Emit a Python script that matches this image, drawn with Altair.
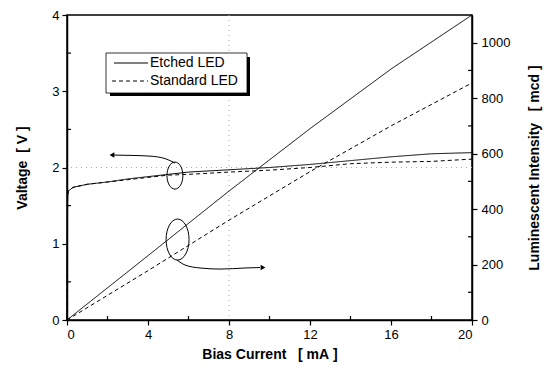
import altair as alt
import pandas as pd

# ---------------- data ----------------
current_v = [0, 0.03, 0.06, 0.3, 1, 2, 3, 4, 5, 6, 8, 10, 12, 14, 16, 18, 20]
etched_v = [0, 1.6, 1.69, 1.74, 1.78, 1.81, 1.85, 1.88, 1.91, 1.94, 1.97, 2.0, 2.04, 2.09, 2.14, 2.18, 2.195]
standard_v = [0, 1.6, 1.69, 1.74, 1.78, 1.81, 1.84, 1.87, 1.9, 1.91, 1.94, 1.965, 2.0, 2.05, 2.07, 2.08, 2.11]

current_l = [0, 4, 8, 12, 16, 20]
etched_l = [0, 232, 465, 690, 905, 1100]
standard_l = [0, 178, 360, 535, 700, 855]

series_names = ["Etched LED", "Standard LED"]

NB = "\u00a0"
x_title = "Bias Current" + NB * 3 + "[" + NB + "mA" + NB + "]"
v_title = "Valtage" + NB * 2 + "[" + NB + "V" + NB + "]"
l_title = "Luminescent Intensity" + NB * 3 + "[" + NB + "mcd" + NB + "]"

# annotations (data units: current, voltage)
ellipse_x = [5.33, 5.46]
ellipse_y = [1.894, 1.055]
arrow1_x = [5.33, 4.84, 4.10, 3.11, 2.32]
arrow1_y = [2.058, 2.117, 2.149, 2.159, 2.163]
arrow2_x = [5.43, 5.83, 6.57, 7.56, 8.79, 9.53]
arrow2_y = [0.786, 0.721, 0.682, 0.668, 0.682, 0.688]
head1 = (2.22, 2.163)
head2 = (9.68, 0.688)

grid_x = [8]
grid_y = [2]
minor_x = [2, 6, 10, 14, 18]
minor_v = [0.5, 1.5, 2.5, 3.5]
minor_l = [100, 300, 500, 700, 900]

# ---------------- tables ----------------
def long(xs, ys_list):
    rows = []
    for name, ys in zip(series_names, ys_list):
        for i, (x, y) in enumerate(zip(xs, ys)):
            rows.append({"series": name, "i": i, "x": x, "y": y})
    return pd.DataFrame(rows)

volt_df = long(current_v, [etched_v, standard_v])
lum_df = long(current_l, [etched_l, standard_l])

W, H = 405, 305
FONT = "Liberation Sans"

xscale = alt.Scale(domain=[0, 20], nice=False)
vscale = alt.Scale(domain=[0, 4], nice=False)
lscale = alt.Scale(domain=[0, 1100], nice=False)
dash = alt.StrokeDash("series:N", scale=alt.Scale(domain=series_names, range=[[1, 0], [4, 3]]), legend=None)

x_axis = alt.Axis(values=[0, 4, 8, 12, 16, 20], title=x_title, grid=False, format="d",
                  labelPadding=3, titlePadding=6)

volt = alt.Chart(volt_df).mark_line(color="black", strokeWidth=1).encode(
    x=alt.X("x:Q", scale=xscale, axis=x_axis),
    y=alt.Y("y:Q", scale=vscale, axis=alt.Axis(values=[0, 1, 2, 3, 4], title=v_title, format="d",
                                               grid=False, labelPadding=3, titlePadding=22)),
    strokeDash=dash,
    order="i:Q",
)

gx = alt.Chart(pd.DataFrame({"x": grid_x})).mark_rule(color="#aaaaaa", strokeDash=[1, 4], strokeWidth=1).encode(
    x=alt.X("x:Q", scale=xscale))
gy = alt.Chart(pd.DataFrame({"y": grid_y})).mark_rule(color="#aaaaaa", strokeDash=[1, 4], strokeWidth=1).encode(
    y=alt.Y("y:Q", scale=vscale))

mx = alt.Chart(pd.DataFrame({"x": minor_x})).mark_rule(color="black", strokeWidth=1.2).encode(
    x=alt.X("x:Q", scale=xscale), y=alt.value(H), y2=alt.value(H - 4))
mv = alt.Chart(pd.DataFrame({"y": minor_v})).mark_rule(color="black", strokeWidth=1.2).encode(
    y=alt.Y("y:Q", scale=vscale), x=alt.value(0), x2=alt.value(4))

ell1 = alt.Chart(pd.DataFrame({"x": ellipse_x[:1], "y": ellipse_y[:1]})).mark_point(
    shape="M0,-1A0.59,1,0,1,1,0,1A0.59,1,0,1,1,0,-1Z", size=729, filled=False,
    color="black", strokeWidth=1, opacity=1).encode(
    x=alt.X("x:Q", scale=xscale), y=alt.Y("y:Q", scale=vscale))
ell2 = alt.Chart(pd.DataFrame({"x": ellipse_x[1:], "y": ellipse_y[1:]})).mark_point(
    shape="M0,-1A0.56,1,0,1,1,0,1A0.56,1,0,1,1,0,-1Z", size=1681, filled=False,
    color="black", strokeWidth=1, opacity=1).encode(
    x=alt.X("x:Q", scale=xscale), y=alt.Y("y:Q", scale=vscale))

a1 = alt.Chart(pd.DataFrame({"x": arrow1_x, "y": arrow1_y, "i": range(len(arrow1_x))})).mark_line(
    color="black", strokeWidth=1, interpolate="monotone").encode(
    x=alt.X("x:Q", scale=xscale), y=alt.Y("y:Q", scale=vscale), order="i:Q")
a2 = alt.Chart(pd.DataFrame({"x": arrow2_x, "y": arrow2_y, "i": range(len(arrow2_x))})).mark_line(
    color="black", strokeWidth=1, interpolate="monotone").encode(
    x=alt.X("x:Q", scale=xscale), y=alt.Y("y:Q", scale=vscale), order="i:Q")
h1 = alt.Chart(pd.DataFrame({"x": [head1[0]], "y": [head1[1]]})).mark_point(
    shape="triangle-left", size=30, filled=True, color="black", opacity=1).encode(
    x=alt.X("x:Q", scale=xscale), y=alt.Y("y:Q", scale=vscale))
h2 = alt.Chart(pd.DataFrame({"x": [head2[0]], "y": [head2[1]]})).mark_point(
    shape="triangle-right", size=30, filled=True, color="black", opacity=1).encode(
    x=alt.X("x:Q", scale=xscale), y=alt.Y("y:Q", scale=vscale))

# legend (drawn manually to get the boxed / shadowed look)
one = alt.Data(values=[{}])
shadow = alt.Chart(one).mark_rect(color="black").encode(
    x=alt.value(43), x2=alt.value(183), y=alt.value(42), y2=alt.value(81))
box = alt.Chart(one).mark_rect(fill="white", stroke="black", strokeWidth=0.8).encode(
    x=alt.value(39), x2=alt.value(180), y=alt.value(38), y2=alt.value(78))
leg_l1 = alt.Chart(one).mark_rule(color="black", strokeWidth=1).encode(
    x=alt.value(47), x2=alt.value(81), y=alt.value(48))
leg_l2 = alt.Chart(one).mark_rule(color="black", strokeWidth=1, strokeDash=[4, 3]).encode(
    x=alt.value(45), x2=alt.value(81), y=alt.value(66))
leg_t1 = alt.Chart(one).mark_text(align="left", baseline="middle", font=FONT, fontSize=14, color="black").encode(
    x=alt.value(83), y=alt.value(48), text=alt.value(series_names[0]))
leg_t2 = alt.Chart(one).mark_text(align="left", baseline="middle", font=FONT, fontSize=14, color="black").encode(
    x=alt.value(83), y=alt.value(66), text=alt.value(series_names[1]))

left = alt.layer(gx, gy, volt, mx, mv, ell1, ell2, a1, a2, h1, h2,
                 shadow, box, leg_l1, leg_l2, leg_t1, leg_t2)

lum = alt.Chart(lum_df).mark_line(color="black", strokeWidth=1).encode(
    x=alt.X("x:Q", scale=xscale),
    y=alt.Y("y:Q", scale=lscale, axis=alt.Axis(orient="right", values=[0, 200, 400, 600, 800, 1000],
                                               title=l_title, grid=False, format="d",
                                               labelPadding=4, titlePadding=32, titleAngle=270,
                                               titleBaseline="bottom")),
    strokeDash=dash,
    order="i:Q",
)
ml = alt.Chart(pd.DataFrame({"y": minor_l})).mark_rule(color="black", strokeWidth=1.2).encode(
    y=alt.Y("y:Q", scale=lscale), x=alt.value(W - 4), x2=alt.value(W))
right = alt.layer(lum, ml)

chart = alt.layer(left, right).resolve_scale(y="independent", strokeDash="shared").properties(
    width=W, height=H,
    autosize=alt.AutoSizeParams(type="none"),
    padding={"left": 59, "top": 7, "right": 77, "bottom": 43},
    background="white",
).configure_view(stroke="black", strokeWidth=1.5).configure_axis(
    domainColor="black", domainWidth=1.5, tickColor="black", tickWidth=1.2, tickSize=5,
    labelFont=FONT, labelFontSize=13, labelColor="black",
    titleFont=FONT, titleFontSize=14, titleFontWeight="bold", titleColor="black",
)

chart.save("out.html", embed_options={"renderer": "svg", "actions": False})
